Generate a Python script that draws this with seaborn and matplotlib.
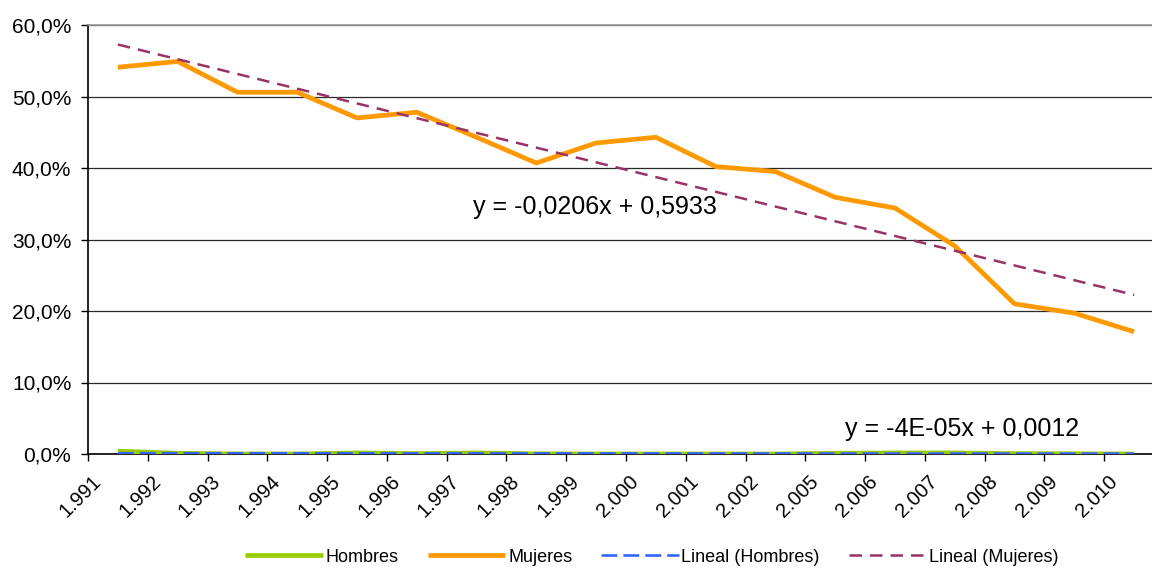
import numpy as np
import pandas as pd
import matplotlib
matplotlib.use("Agg")
import matplotlib.pyplot as plt
from matplotlib.ticker import FuncFormatter, FixedLocator
import seaborn as sns

# Categories (years, Spanish thousands separator)
anios = ["1.991", "1.992", "1.993", "1.994", "1.995", "1.996", "1.997", "1.998",
         "1.999", "2.000", "2.001", "2.002", "2.005", "2.006", "2.007", "2.008",
         "2.009", "2.010"]

# Shares per year (fraction of 1)
hombres = [0.0040, 0.0010, 0.0000, 0.0000, 0.0015, 0.0005, 0.0015, 0.0003, 0.0000,
           0.0000, 0.0000, 0.0000, 0.0010, 0.0015, 0.0015, 0.0005, 0.0003, 0.0000]
mujeres = [0.541, 0.549, 0.506, 0.506, 0.470, 0.478, 0.443, 0.407, 0.435,
           0.443, 0.402, 0.395, 0.359, 0.344, 0.291, 0.210, 0.197, 0.171]

# Linear trend coefficients (x = 1..n)
pend_h, orig_h = -4e-05, 0.0012
pend_m, orig_m = -0.0206, 0.5933
eq_h = "y = -4E-05x + 0,0012"
eq_m = "y = -0,0206x + 0,5933"

sns.set_theme(style="white")
plt.rcParams["font.family"] = ["Liberation Sans", "DejaVu Sans"]

pos = np.arange(len(anios))
df = pd.DataFrame({"pos": pos, "anio": anios, "Hombres": hombres, "Mujeres": mujeres})
df["Lineal (Hombres)"] = pend_h * (pos + 1) + orig_h
df["Lineal (Mujeres)"] = pend_m * (pos + 1) + orig_m

fig = plt.figure(figsize=(11.52, 5.70), dpi=100)
W, H = 1152, 570
ax = fig.add_axes([88 / W, 1 - 454 / H, 1076 / W, 429 / H])

sns.lineplot(data=df, x="pos", y="Hombres", ax=ax, color="#99CC00", linewidth=3.4,
             label="Hombres", solid_capstyle="butt", zorder=3)
sns.lineplot(data=df, x="pos", y="Mujeres", ax=ax, color="#FF9900", linewidth=3.4,
             label="Mujeres", solid_capstyle="butt", zorder=3)
sns.lineplot(data=df, x="pos", y="Lineal (Hombres)", ax=ax, color="#3366FF",
             linewidth=1.9, label="Lineal (Hombres)", zorder=4)
ax.lines[-1].set_dashes((6.0, 2.3))
sns.lineplot(data=df, x="pos", y="Lineal (Mujeres)", ax=ax, color="#993366",
             linewidth=1.8, label="Lineal (Mujeres)", zorder=4)
ax.lines[-1].set_dashes((5.0, 3.2))

# Axes limits and ticks
ax.set_xlim(-0.5, len(anios) - 0.5)
ax.set_ylim(0, 0.6)
ax.set_xlabel("")
ax.set_ylabel("")

ax.set_yticks(np.arange(0, 0.61, 0.1))
ax.yaxis.set_major_formatter(FuncFormatter(lambda v, _: f"{v * 100:.1f}%".replace(".", ",")))
ax.tick_params(axis="y", which="major", left=True, length=5, width=1, direction="out",
               color="black", pad=7, labelsize=15, labelcolor="black")

ax.xaxis.set_minor_locator(FixedLocator(np.arange(-0.5, len(anios), 1.0)))
ax.set_xticks(pos - 0.22)
ax.set_xticklabels(anios, rotation=45, ha="right", va="top")
ax.tick_params(axis="x", which="major", bottom=True, length=0, pad=13,
               labelsize=14.5, labelcolor="black")
ax.tick_params(axis="x", which="minor", bottom=True, length=5, width=1,
               direction="out", color="black")

# Horizontal gridlines
ax.yaxis.grid(True, color="#2a2a2a", linewidth=0.9)
ax.xaxis.grid(False)
ax.set_axisbelow(True)

for side in ("left", "bottom"):
    ax.spines[side].set_color("black")
    ax.spines[side].set_linewidth(1.2)
ax.spines["top"].set_color("#999999")
ax.spines["top"].set_linewidth(1.2)
ax.spines["right"].set_visible(False)

# Trend equations
ax.text(5.94, 0.3357, eq_m, fontsize=18, color="black", ha="left", va="baseline")
ax.text(12.16, 0.0252, eq_h, fontsize=18, color="black", ha="left", va="baseline")

# Legend along the bottom
handles, labels = ax.get_legend_handles_labels()
ax.get_legend().remove()
leg = fig.legend(handles, labels, loc="center", bbox_to_anchor=(652 / W, 1 - 557 / H),
                 ncol=4, frameon=False, fontsize=13, handlelength=4.3,
                 handletextpad=0.15, columnspacing=1.6)
for t in leg.get_texts():
    t.set_color("black")

fig.savefig("out.png", dpi=100)
